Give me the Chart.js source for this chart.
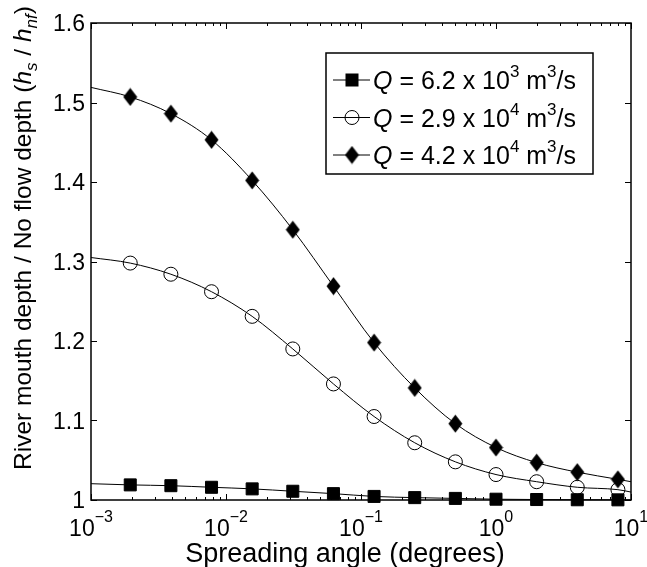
<!DOCTYPE html>
<html>
<head>
<meta charset="utf-8">
<script src="https://cdn.jsdelivr.net/npm/chart.js@4.4.1/dist/chart.umd.min.js"></script>
<style>
  html, body { margin: 0; padding: 0; background: #fff; }
  #wrap { width: 647px; height: 567px; position: relative; }
</style>
</head>
<body>
<div id="wrap"><canvas id="depthChart"></canvas></div>
<script>
// Spreading angle (degrees) where the markers sit
const angles = [0.001953125, 0.00390625, 0.0078125, 0.015625, 0.03125, 0.0625, 0.125, 0.25, 0.5, 1, 2, 4, 8];
// curve ends at the axis limits
const angleEnds = [0.001, 10];

// depth ratio hs / hnf, one list per discharge
const lowQ  = [1.019, 1.018, 1.016, 1.014, 1.011, 1.008, 1.0045, 1.003, 1.002, 1.001, 1.0006, 1.0003, 1.0002];
const midQ  = [1.298, 1.284, 1.262, 1.231, 1.190, 1.146, 1.105, 1.072, 1.048, 1.032, 1.023, 1.016, 1.013];
const highQ = [1.507, 1.486, 1.453, 1.402, 1.340, 1.269, 1.198, 1.141, 1.096, 1.066, 1.047, 1.035, 1.026];
const lowEnds  = [1.0205, 1.0001];
const midEnds  = [1.305, 1.010];
const highEnds = [1.519, 1.023];

// legend text parts: mantissa, exponent
const legendItems = [['6.2', '3'], ['2.9', '4'], ['4.2', '4']];

const xExponents = [-3, -2, -1, 0, 1];
const yTicks = [1, 1.1, 1.2, 1.3, 1.4, 1.5, 1.6];

const FONT = '"Liberation Sans", Arial, sans-serif';

// tall diamond marker
const diamond = document.createElement('canvas');
diamond.width = 15; diamond.height = 19;
(function () {
  const g = diamond.getContext('2d');
  g.fillStyle = '#000';
  g.beginPath();
  g.moveTo(7.5, 0.5); g.lineTo(14.5, 9.5); g.lineTo(7.5, 18.5); g.lineTo(0.5, 9.5);
  g.closePath(); g.fill();
})();

function series(vals, ends) {
  return [{ x: angleEnds[0], y: ends[0] }]
    .concat(angles.map((a, i) => ({ x: a, y: vals[i] })))
    .concat([{ x: angleEnds[1], y: ends[1] }]);
}

function markerRadius(r) {
  return ctx => (ctx.dataIndex === 0 || ctx.dataIndex === angles.length + 1) ? 0 : r;
}

function drawRuns(ctx, runs, x, y, align) {
  let w = 0;
  runs.forEach(r => { ctx.font = r[1]; w += ctx.measureText(r[0]).width; });
  let cx = align === 'center' ? x - w / 2 : align === 'right' ? x - w : x;
  runs.forEach(r => {
    ctx.font = r[1];
    ctx.fillText(r[0], cx, y + (r[2] || 0));
    cx += ctx.measureText(r[0]).width;
  });
}

const framePlugin = {
  id: 'frame',
  beforeDatasetsDraw(chart) {
    const { ctx, chartArea: a, scales: { x, y } } = chart;
    ctx.save();
    ctx.strokeStyle = '#000';
    ctx.lineWidth = 1.5;
    ctx.strokeRect(a.left, a.top, a.right - a.left, a.bottom - a.top);
    ctx.lineWidth = 1;
    ctx.beginPath();
    // x ticks, major and minor, bottom and top
    xExponents.forEach(e => {
      for (let m = 1; m < 10; m++) {
        const v = m * Math.pow(10, e);
        if (v > 10) break;
        const px = Math.round(x.getPixelForValue(v)) + 0.5;
        const len = m === 1 ? 6 : 3;
        ctx.moveTo(px, a.bottom); ctx.lineTo(px, a.bottom - len);
        ctx.moveTo(px, a.top); ctx.lineTo(px, a.top + len);
      }
    });
    yTicks.forEach(v => {
      const py = Math.round(y.getPixelForValue(v)) + 0.5;
      ctx.moveTo(a.left, py); ctx.lineTo(a.left + 6, py);
      ctx.moveTo(a.right, py); ctx.lineTo(a.right - 6, py);
    });
    ctx.stroke();
    ctx.restore();
  },
  afterDraw(chart) {
    const { ctx, chartArea: a, scales: { x, y } } = chart;
    ctx.save();
    ctx.fillStyle = '#000';
    ctx.textAlign = 'left';
    ctx.textBaseline = 'alphabetic';
    const tick = '23px ' + FONT, sup = '16px ' + FONT;

    // y tick labels
    yTicks.forEach(v => {
      drawRuns(ctx, [[String(v), tick]], a.left - 6, y.getPixelForValue(v) + 8, 'right');
    });
    // x tick labels 10^n
    xExponents.forEach(e => {
      const lbl = e < 0 ? '\u2212' + (-e) : String(e);
      drawRuns(ctx, [['10', tick], [lbl, sup, -14]], x.getPixelForValue(Math.pow(10, e)), a.bottom + 36, 'center');
    });

    // axis titles
    const title = '27px ' + FONT;
    drawRuns(ctx, [['Spreading angle (degrees)', title]], (a.left + a.right) / 2 - 16, 562, 'center');

    ctx.save();
    ctx.translate(31, 238);
    ctx.rotate(-Math.PI / 2);
    const t2 = '24.5px ' + FONT, t2i = 'italic 24.5px ' + FONT, t2s = 'italic 17px ' + FONT;
    drawRuns(ctx, [
      ['River mouth depth / No flow depth (', t2],
      ['h', t2i], ['s', t2s, 6], [' / ', t2],
      ['h', t2i], ['nf', t2s, 6], [')', t2]
    ], 0, 0, 'center');
    ctx.restore();

    // legend
    const lx = 326, ly = 53, lw = 267, lh = 121;
    ctx.fillStyle = '#fff';
    ctx.fillRect(lx, ly, lw, lh);
    ctx.strokeStyle = '#000';
    ctx.lineWidth = 1.5;
    ctx.strokeRect(lx, ly, lw, lh);
    const lf = '25px ' + FONT, lfi = 'italic 25px ' + FONT, lsup = '17px ' + FONT;
    legendItems.forEach((it, i) => {
      const ry = 80 + i * 37.5;
      ctx.lineWidth = 1;
      ctx.strokeStyle = '#000';
      ctx.beginPath(); ctx.moveTo(333, ry); ctx.lineTo(370, ry); ctx.stroke();
      ctx.fillStyle = '#000';
      if (i === 0) {
        ctx.fillRect(345.5, ry - 6.5, 13, 13);
      } else if (i === 1) {
        ctx.beginPath(); ctx.arc(352, ry, 7, 0, Math.PI * 2); ctx.stroke();
      } else {
        ctx.drawImage(diamond, 352 - 7.5, ry - 9.5);
      }
      drawRuns(ctx, [
        ['Q', lfi], [' = ' + it[0] + ' x 10', lf], [it[1], lsup, -12],
        [' m', lf], ['3', lsup, -12], ['/s', lf]
      ], 373, ry + 9, 'left');
    });
    ctx.restore();
  }
};

new Chart(document.getElementById('depthChart'), {
  type: 'line',
  data: {
    datasets: [
      {
        label: 'Q = 6.2 x 10^3 m^3/s',
        data: series(lowQ, lowEnds),
        borderColor: '#000', borderWidth: 1,
        pointStyle: 'rect', pointRadius: markerRadius(8.5),
        pointBackgroundColor: '#000', pointBorderColor: '#000', pointBorderWidth: 1
      },
      {
        label: 'Q = 2.9 x 10^4 m^3/s',
        data: series(midQ, midEnds),
        borderColor: '#000', borderWidth: 1,
        pointStyle: 'circle', pointRadius: markerRadius(7),
        pointBackgroundColor: 'rgba(0,0,0,0)', pointBorderColor: '#000', pointBorderWidth: 1
      },
      {
        label: 'Q = 4.2 x 10^4 m^3/s',
        data: series(highQ, highEnds),
        borderColor: '#000', borderWidth: 1,
        pointStyle: diamond, pointRadius: markerRadius(8)
      }
    ]
  },
  options: {
    responsive: true,
    maintainAspectRatio: false,
    animation: false,
    devicePixelRatio: 1,
    layout: { padding: { left: 91, top: 23, right: 16, bottom: 67 } },
    datasets: { line: { clip: false, cubicInterpolationMode: 'monotone' } },
    scales: {
      x: { type: 'logarithmic', min: 0.001, max: 10, display: false },
      y: { type: 'linear', min: 1, max: 1.6, display: false }
    },
    plugins: { legend: { display: false }, tooltip: { enabled: false } }
  },
  plugins: [framePlugin]
});
</script>
</body>
</html>
